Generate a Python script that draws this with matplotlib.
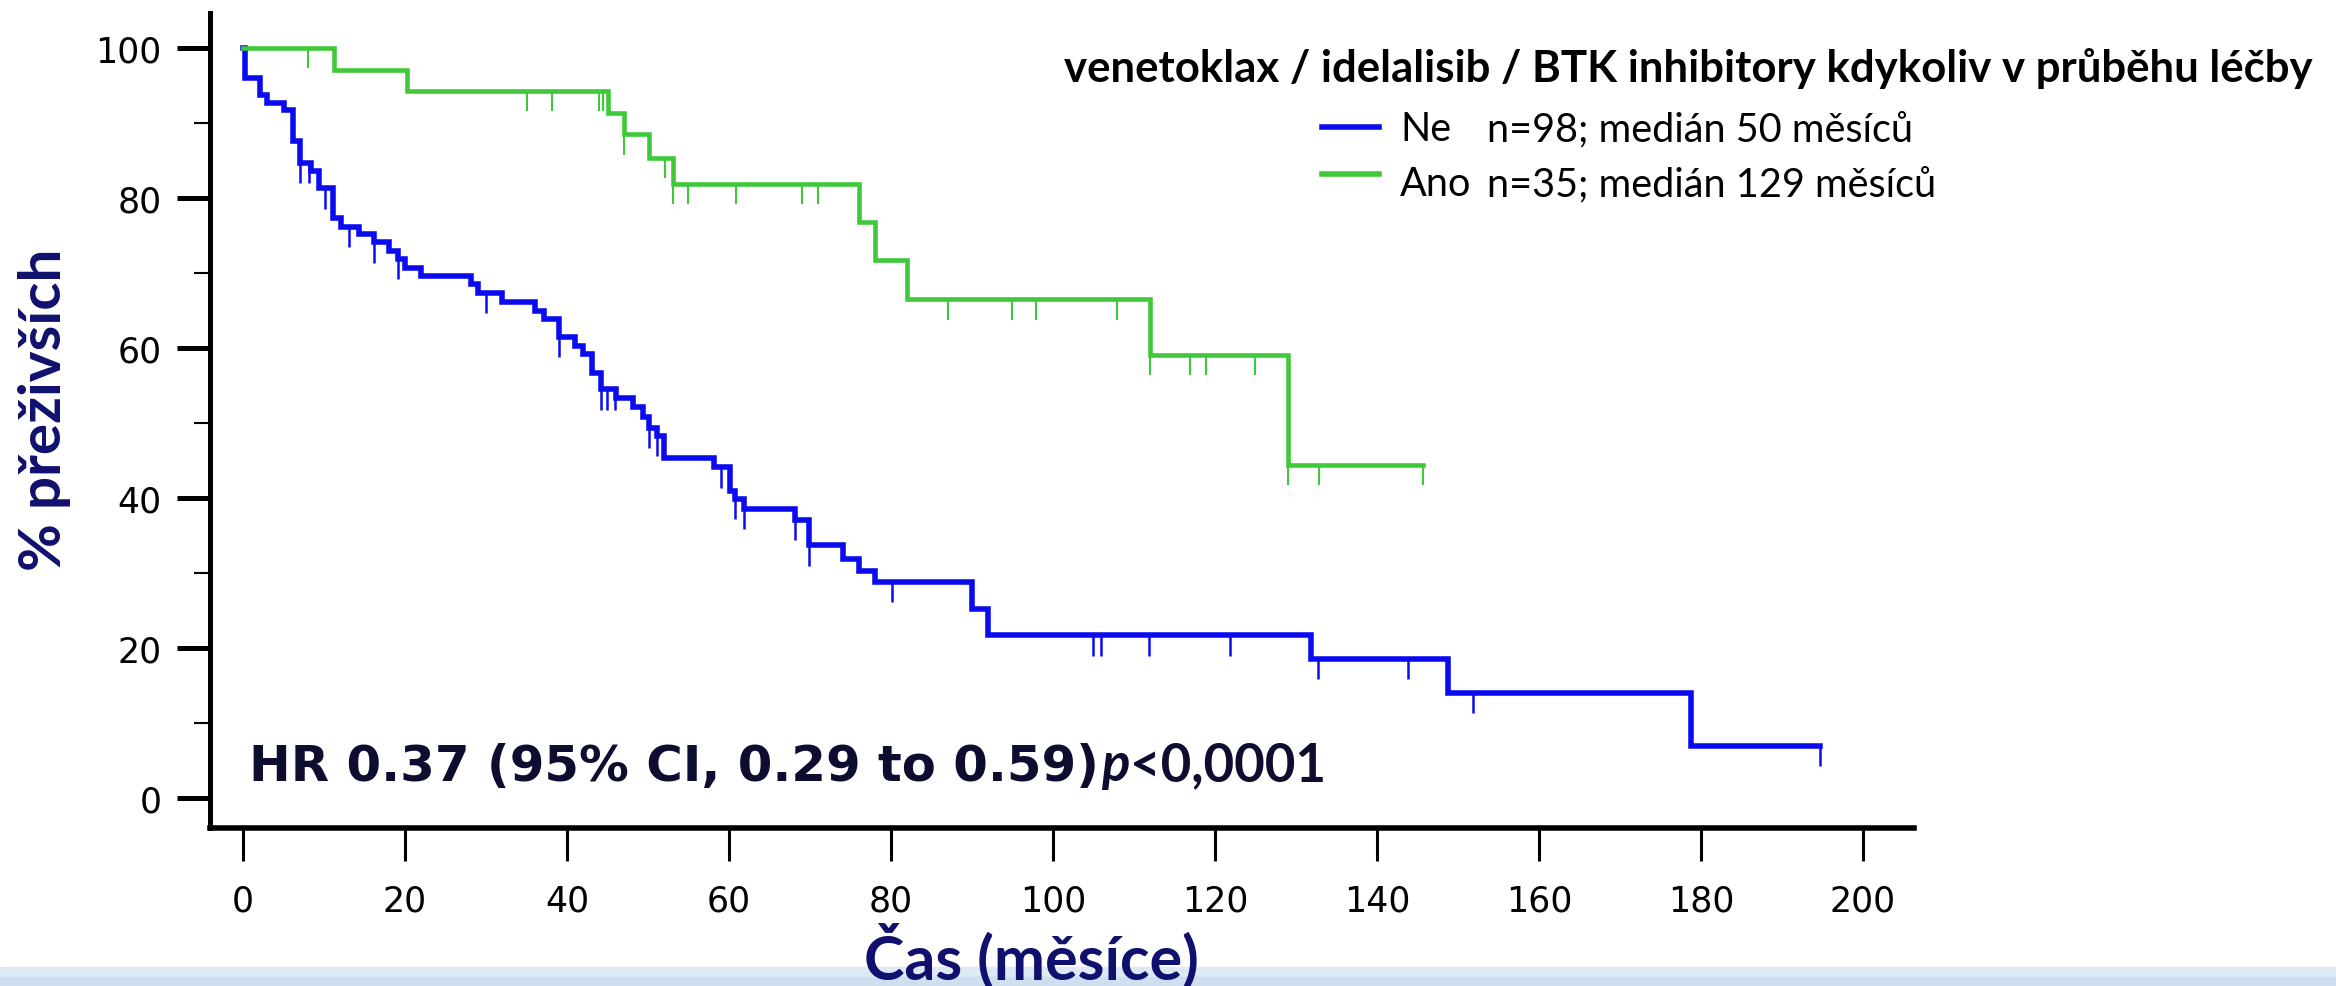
import numpy as np
import matplotlib
matplotlib.use("Agg")
import matplotlib.pyplot as plt
from matplotlib.lines import Line2D
from matplotlib.patches import Rectangle

# ---------------- data ----------------
ne_times = [0, 0.2, 2.1, 3.0, 5.1, 6.2, 7.0, 8.35, 9.35, 11.1, 12.1, 14.3, 16.2, 18.0,
            19.1, 20.0, 22.0, 28.1, 29.0, 32.0, 36.0, 37.2, 39.0, 41.0, 42.0, 43.1,
            44.2, 46.1, 48.1, 49.4, 50.1, 51.1, 52.0, 58.1, 60.1, 60.8, 61.9, 68.1,
            69.9, 74.1, 76.0, 78.0, 90.0, 92.0, 131.8, 148.8, 178.8]
ne_surv = [100, 96.0, 93.8, 92.7, 91.7, 87.6, 84.7, 83.6, 81.3, 77.3, 76.2, 75.2, 74.1, 73.0,
           71.9, 70.7, 69.6, 68.5, 67.4, 66.2, 65.0, 63.9, 61.5, 60.3, 59.2, 56.7,
           54.5, 53.3, 52.1, 50.8, 49.4, 48.3, 45.4, 44.1, 41.0, 39.9, 38.6, 37.1,
           33.7, 31.9, 30.3, 28.8, 25.2, 21.7, 18.6, 14.0, 7.0]
ne_end = 194.7
ne_censored = [7.0, 8.1, 10.1, 13.1, 16.2, 19.1, 30.0, 39.0, 44.2, 44.9, 45.9, 50.1, 51.1,
               59.0, 60.8, 61.9, 68.1, 69.9, 80.1, 104.9, 105.9, 111.9, 121.9, 132.7,
               143.8, 151.9, 194.7]

ano_times = [0, 11.2, 20.2, 45.1, 47.0, 50.1, 53.1, 76.1, 78.0, 82.0, 112.0, 129.0]
ano_surv = [100, 97.1, 94.3, 91.4, 88.5, 85.4, 81.9, 76.8, 71.7, 66.5, 59.1, 44.4]
ano_end = 145.7
ano_censored = [8.0, 35.1, 38.1, 44.0, 44.5, 47.0, 52.1, 53.1, 55.0, 60.9, 69.0, 71.0,
                87.0, 95.0, 97.9, 107.9, 112.0, 116.9, 118.9, 124.9, 129.0, 132.8, 145.7]

x_ticks = [0, 20, 40, 60, 80, 100, 120, 140, 160, 180, 200]
y_ticks = [0, 20, 40, 60, 80, 100]
y_minor = [10, 30, 50, 70, 90]

legend_title = "venetoklax / idelalisib / BTK inhibitory kdykoliv v průběhu léčby"
group_names = ["Ne", "Ano"]
group_info = ["n=98; medián 50 měsíců", "n=35; medián 129 měsíců"]
hr_text = "HR 0.37 (95% CI, 0.29 to 0.59)"
p_text = "<0,0001"
x_label = "Čas (měsíce)"
y_label = "% přeživších"

# ---------------- figure ----------------
W, H = 2336, 987
fig = plt.figure(figsize=(W / 100, H / 100), dpi=100)
fig.patch.set_facecolor("white")


def fx(x):
    return x / W


def fy(y):
    return 1 - y / H


ax = fig.add_axes([fx(210), fy(829), (1914 - 210) / W, (829 - 14) / H])
ax.set_xlim(-4.07, 206.3)
ax.set_ylim(-4.0, 104.67)

BLUE = "#0b0bf0"
GREEN = "#3ec83a"
NAVY = "#10106e"
DARK = "#0d0d30"


def km(times, surv, end, censored, color, lw, clw):
    t = list(times) + [end]
    s = list(surv) + [surv[-1]]
    ax.plot(t, s, drawstyle="steps-post", color=color, lw=lw, solid_joinstyle="miter",
            zorder=3)
    idx = np.searchsorted(np.array(times), np.array(censored), side="right") - 1
    cy = np.array(surv)[idx]
    ax.vlines(censored, cy - 2.7, cy, color=color, lw=clw, zorder=3)


km(ne_times, ne_surv, ne_end, ne_censored, BLUE, 4.0, 1.8)
km(ano_times, ano_surv, ano_end, ano_censored, GREEN, 3.3, 1.5)

for side in ["top", "right"]:
    ax.spines[side].set_visible(False)
ax.spines["left"].set_linewidth(3.6)
ax.spines["bottom"].set_linewidth(4.0)

ax.set_xticks(x_ticks)
ax.set_xticklabels([str(v) for v in x_ticks])
ax.set_yticks(y_ticks)
ax.set_yticklabels([str(v) for v in y_ticks])
ax.set_yticks(y_minor, minor=True)
ax.tick_params(axis="x", which="major", length=24, width=2.2, pad=16, labelsize=25,
               color="black")
ax.tick_params(axis="y", which="major", length=24, width=3.6, pad=11, labelsize=25)
ax.tick_params(axis="y", which="minor", length=11.5, width=1.5)
for lab in ax.get_xticklabels() + ax.get_yticklabels():
    lab.set_fontfamily("DejaVu Sans")

# bottom band
fig.patches.append(Rectangle((0, fy(978)), 1, (978 - 968) / H, transform=fig.transFigure,
                             color="#dde9f5", zorder=0))
fig.patches.append(Rectangle((0, 0), 1, (987 - 978) / H, transform=fig.transFigure,
                             color="#cfdff0", zorder=0))

# axis labels
fig.text(fx(1031), fy(979), x_label, ha="center", va="baseline", fontsize=44,
         fontweight="bold", family="Lato", color=NAVY)
fig.text(fx(45), fy(410), y_label, ha="center", va="center", rotation=90, fontsize=42,
         fontweight="bold", family="Lato", color=NAVY)

# HR annotation
fig.text(fx(249), fy(781), hr_text, ha="left", va="baseline", fontsize=35.8,
         fontweight="bold", family="DejaVu Sans", color=DARK)
fig.text(fx(1101), fy(781), "p", ha="left", va="baseline", fontsize=38,
         fontweight="bold", style="italic", family="Lato", color=DARK)
fig.text(fx(1130), fy(781), p_text, ha="left", va="baseline", fontsize=38,
         fontweight="bold", family="Lato", color=DARK)

# legend
fig.text(fx(1064), fy(82), legend_title, ha="left", va="baseline", fontsize=31.5,
         fontweight="bold", family="Lato", color="black")
for i, (name, info, col, ly, by) in enumerate(zip(group_names, group_info, [BLUE, GREEN],
                                                  [128, 175], [141, 196])):
    fig.add_artist(Line2D([fx(1322), fx(1379)], [fy(ly), fy(ly)], color=col, lw=4.0,
                          transform=fig.transFigure))
    fig.text(fx(1400), fy(by), name, ha="left", va="baseline", fontsize=28.5,
             family="Lato", color="black")
    fig.text(fx(1487), fy(by), info, ha="left", va="baseline", fontsize=28.5,
             family="Lato", color="black")

fig.savefig("out.png", dpi=100)
